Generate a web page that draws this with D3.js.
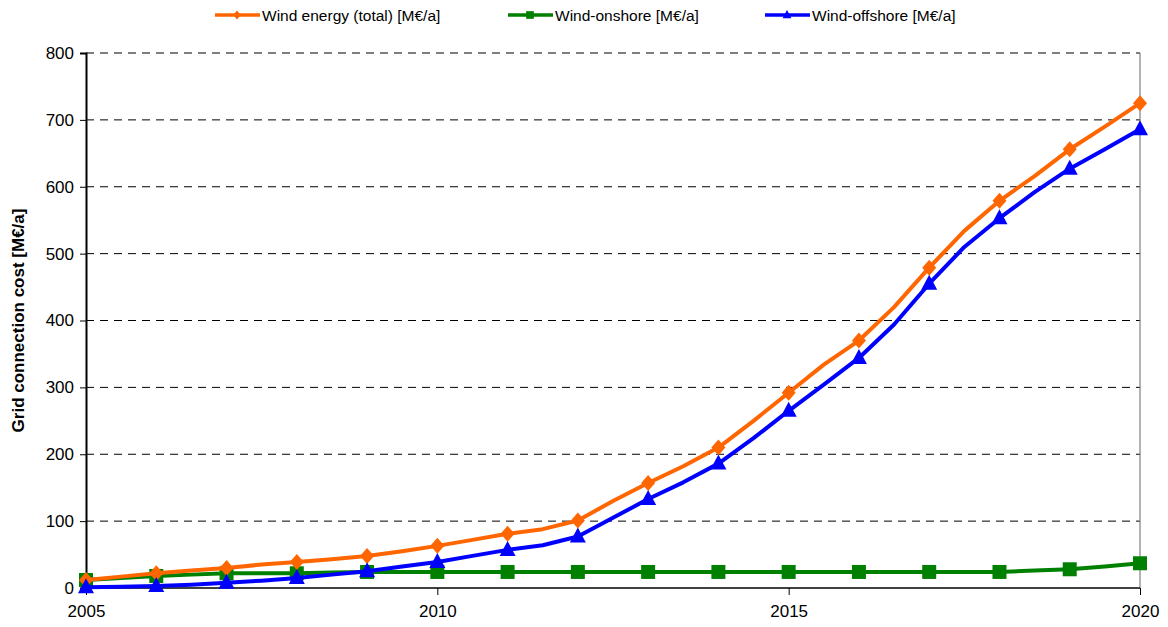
<!DOCTYPE html>
<html>
<head>
<meta charset="utf-8">
<script src="https://cdn.jsdelivr.net/npm/d3@7"></script>
<style>
  html, body { margin: 0; padding: 0; background: #fff; }
  svg { display: block; font-family: "Liberation Sans", Arial, sans-serif; }
</style>
</head>
<body>
<svg id="chart" width="1168" height="627"></svg>
<script>
// Half-year sampling points (markers only on whole years)
const periods = [2005, 2005.5, 2006, 2006.5, 2007, 2007.5, 2008, 2008.5, 2009, 2009.5,
                 2010, 2010.5, 2011, 2011.5, 2012, 2012.5, 2013, 2013.5, 2014, 2014.5,
                 2015, 2015.5, 2016, 2016.5, 2017, 2017.5, 2018, 2018.5, 2019, 2019.5, 2020];
const windTotal    = [12, 17, 22, 26, 30, 35, 39, 43, 48, 55,
                      63, 72, 81, 88, 101, 130, 157, 182, 210, 250,
                      292, 334, 370, 420, 479, 534, 579, 616, 656, 690, 725];
const windOnshore  = [12, 15, 18, 20, 22, 22, 22, 23, 24, 24,
                      24, 24, 24, 24, 24, 24, 24, 24, 24, 24,
                      24, 24, 24, 24, 24, 24, 24, 26, 28, 32, 37];
const windOffshore = [1, 2, 3, 5, 8, 11, 15, 20, 25, 32,
                      39, 48, 57, 64, 77, 105, 133, 158, 186, 224,
                      265, 304, 344, 394, 455, 510, 553, 592, 627, 656, 686];
const seriesNames  = ["Wind energy (total) [M€/a]", "Wind-onshore [M€/a]", "Wind-offshore [M€/a]"];
const seriesColors = ["#ff6600", "#008000", "#0000ff"];
const seriesShapes = ["diamond", "square", "triangle"];
const xTicks = [2005, 2010, 2015, 2020];
const yTicks = [0, 100, 200, 300, 400, 500, 600, 700, 800];
const yTitle = "Grid connection cost [M€/a]";

const svg = d3.select("#chart");
const m = { left: 86, right: 1140, top: 53, bottom: 588 };
const x = d3.scaleLinear().domain([2005, 2020]).range([m.left, m.right]);
const y = d3.scaleLinear().domain([0, 800]).range([m.bottom, m.top]);

// gridlines (dashed)
svg.append("g").selectAll("line").data(yTicks.filter(d => d > 0)).join("line")
  .attr("x1", m.left).attr("x2", m.right)
  .attr("y1", d => y(d)).attr("y2", d => y(d))
  .attr("stroke", d => d === 800 ? "#555" : "#000")
  .attr("stroke-width", d => d === 800 ? 1.5 : 1)
  .attr("stroke-dasharray", "8,6");

// right border
svg.append("line").attr("x1", m.right).attr("x2", m.right)
  .attr("y1", m.top).attr("y2", m.bottom).attr("stroke", "#666").attr("stroke-width", 1);

// axes
const yAxis = d3.axisLeft(y).tickValues(yTicks).tickSize(6).tickPadding(6).tickFormat(d3.format("d"));
const gy = svg.append("g").attr("transform", `translate(${m.left},0)`).call(yAxis);
gy.select(".domain").attr("stroke", "#000").attr("stroke-width", 2);
gy.selectAll(".tick line").attr("stroke", "#000");
gy.selectAll("text").attr("font-size", 17).attr("fill", "#000")
  .attr("font-family", "Liberation Sans, Arial, sans-serif");

const xAxis = d3.axisBottom(x).tickValues(xTicks).tickSize(7).tickPadding(10).tickFormat(d3.format("d"));
const gx = svg.append("g").attr("transform", `translate(0,${m.bottom})`).call(xAxis);
gx.select(".domain").attr("stroke", "#000").attr("stroke-width", 1.5).attr("d", `M${m.left},0H${m.right}`);
gx.selectAll(".tick line").attr("stroke", "#000");
gx.selectAll("text").attr("font-size", 17).attr("fill", "#000")
  .attr("font-family", "Liberation Sans, Arial, sans-serif");

// y title
svg.append("text")
  .attr("transform", `translate(24,${(m.top + m.bottom) / 2}) rotate(-90)`)
  .attr("text-anchor", "middle")
  .attr("font-size", 17).attr("font-weight", "bold").attr("fill", "#000")
  .text(yTitle);

const allSeries = [windTotal, windOnshore, windOffshore];
const line = d3.line().x((d, i) => x(periods[i])).y(d => y(d));

// marker shape paths (centered at 0,0), scaled by k
function markerPath(shape, k) {
  if (shape === "diamond") return `M0,${-8 * k}L${7 * k},0L0,${8 * k}L${-7 * k},0Z`;
  if (shape === "square") return `M${-7 * k},${-7 * k}H${7 * k}V${7 * k}H${-7 * k}Z`;
  return `M0,${-9 * k}L${8 * k},${6 * k}L${-8 * k},${6 * k}Z`;
}

// draw order: onshore, total, offshore (offshore on top)
[1, 0, 2].forEach(si => {
  const vals = allSeries[si];
  const g = svg.append("g");
  g.append("path").datum(vals)
    .attr("d", line).attr("fill", "none")
    .attr("stroke", seriesColors[si]).attr("stroke-width", 4)
    .attr("stroke-linejoin", "round");
  const pts = vals.map((v, i) => ({ t: periods[i], v })).filter(p => Number.isInteger(p.t));
  g.selectAll("path.mk").data(pts).join("path").attr("class", "mk")
    .attr("d", markerPath(seriesShapes[si], 1))
    .attr("transform", p => `translate(${x(p.t)},${y(p.v)})`)
    .attr("fill", seriesColors[si]);
});

// legend
const legendPos = [215, 508, 765];
const legendY = 15;
seriesNames.forEach((name, i) => {
  const lg = svg.append("g").attr("transform", `translate(${legendPos[i]},${legendY})`);
  lg.append("line").attr("x1", 0).attr("x2", 45).attr("y1", 0).attr("y2", 0)
    .attr("stroke", seriesColors[i]).attr("stroke-width", 3.5);
  lg.append("path").attr("d", markerPath(seriesShapes[i], 0.55))
    .attr("transform", "translate(22,0)").attr("fill", seriesColors[i]);
  lg.append("text").attr("x", 47).attr("y", 5.5).attr("font-size", 15.5).attr("fill", "#000")
    .text(name);
});
</script>
</body>
</html>
